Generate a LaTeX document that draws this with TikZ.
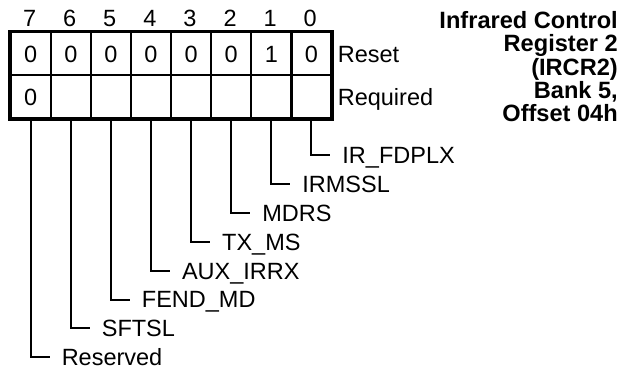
\documentclass[tikz,border=0pt]{standalone}
\usepackage{fontspec}
\setmainfont{Liberation Sans}
\begin{document}
\begin{tikzpicture}[x=1pt,y=-1pt,
  txt/.style={font=\fontsize{23.5}{23.5}\selectfont},
  cell/.style={txt, draw, line width=2.3pt, minimum width=40.1pt, minimum height=43pt,
    inner sep=0pt, text height=16.8pt, text depth=0pt, anchor=north west},
  bitnum/.style={txt, inner sep=0pt, anchor=base},
  side/.style={txt, inner sep=0pt, text height=16.8pt, text depth=0pt, anchor=west},
  fld/.style={txt, inner xsep=12pt, inner ysep=0pt, text height=16.8pt, text depth=0pt, anchor=west},
  lead/.style={line width=2pt},
  title/.style={font=\fontsize{23.6}{23.15}\selectfont\bfseries, align=right, inner sep=0pt, anchor=north east},
]
\useasboundingbox (0,0) rectangle (637,381);
% cells
\foreach \b/\v/\w in {7/0/0,6/0/{},5/0/{},4/0/{},3/0/{},2/0/{},1/1/{},0/0/{}}{
  \node[cell] (r1c\b) at ({9.5+(7-\b)*40.1},31) {\v};
  \node[cell] (r2c\b) at ({9.5+(7-\b)*40.1},74) {\w};
  \node[bitnum] (b\b) at ({29.55+(7-\b)*40.1},26) {\b};
}
\draw[line width=3pt] (r1c7.north west) rectangle (r2c0.south east);
% side labels
\node[side] (reset) at ([xshift=5pt]r1c0.east) {Reset};
\node[side] (req) at ([xshift=5pt]r2c0.east) {Required};
% field labels
\foreach \b/\t in {0/IR\_FDPLX,1/IRMSSL,2/MDRS,3/TX\_MS,4/AUX\_IRRX,5/FEND\_MD,6/SFTSL,7/Reserved}{
  \node[fld] (f\b) at ({29.55+(7-\b)*40.1+20},{155+28.9*\b}) {\t};
  \draw[lead] (r2c\b.south) |- (f\b.west);
}
% title
\node[title] (ttl) at (618,11.5) {Infrared Control\\Register 2\\(IRCR2)\\Bank 5,\\Offset 04h};
\end{tikzpicture}
\end{document}
